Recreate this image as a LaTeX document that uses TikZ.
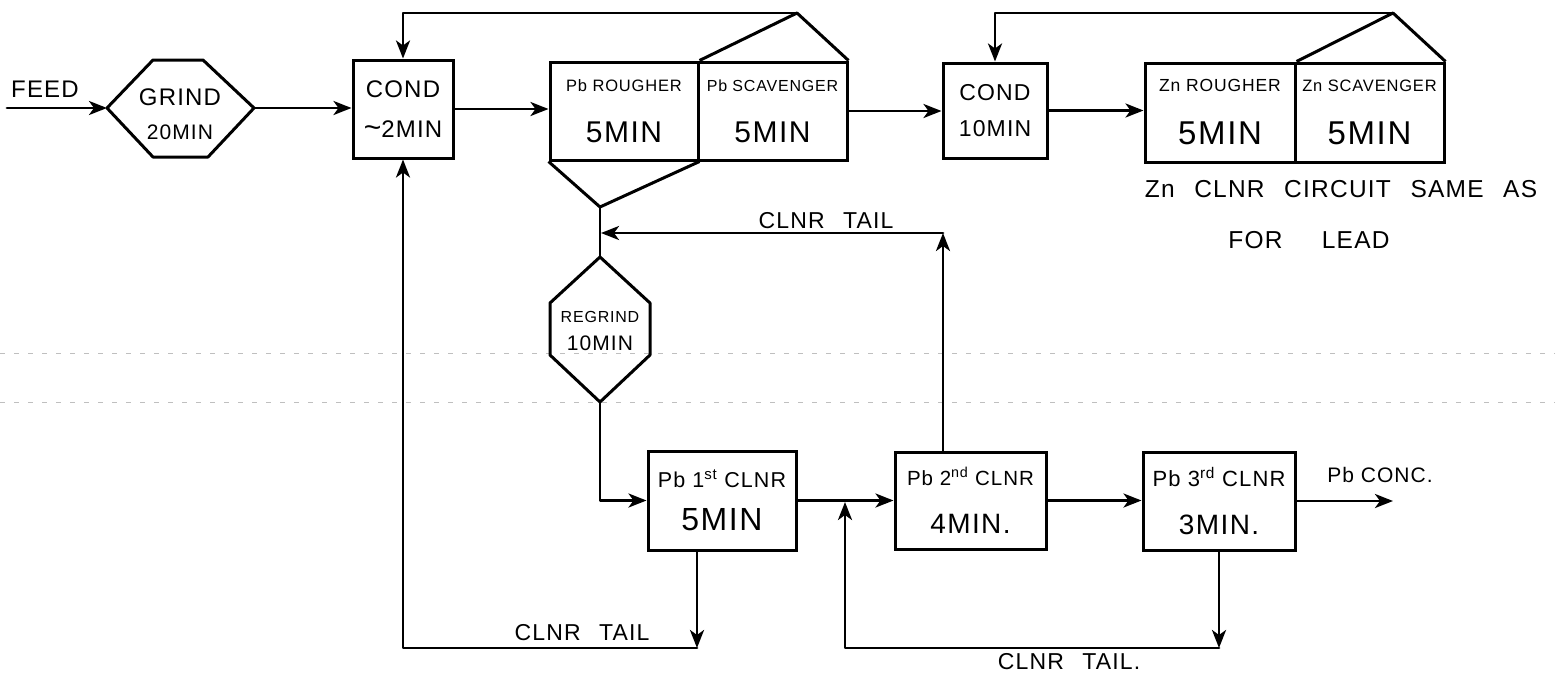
\documentclass[tikz,border=0pt]{standalone}
\usepackage{fontspec}
\setmainfont[LetterSpace=5]{Liberation Sans}
\usetikzlibrary{arrows.meta,calc}
\newcommand\fsz[1]{\fontsize{#1}{#1}\selectfont}
\newcommand\wsp{\hspace{0.8em}}
\begin{document}
\begin{tikzpicture}[x=1pt,y=-1pt,
  box/.style={draw, line width=3pt, inner sep=0pt, align=center},
  conn/.style={line width=2.8pt, line cap=round, line join=round},
  arr/.style={conn, -{Stealth[length=18pt,width=14pt,inset=5pt]}},
  shapeline/.style={line width=3pt, line join=round},
  lbl/.style={inner sep=0pt, align=center},
  faint/.style={gray!50, line width=0.8pt, dash pattern=on 5pt off 9pt}]

\fill[white] (0,0) rectangle (1555,675);
\useasboundingbox (0,0) rectangle (1555,675);

% faint paper grid lines
\draw[faint] (0,353) -- (1555,353);
\draw[faint] (0,402) -- (1555,402);

% ---------- process boxes ----------
\node[box, minimum width=100pt, minimum height=98pt, font=\fontsize{24}{40}\selectfont]
  (cond1) at (403,109) {COND\\{\fsz{24}{\fsz{30}\textasciitilde}2MIN}};
\node[box, minimum width=148pt, minimum height=98pt, font=\fontsize{16.5}{51}\selectfont]
  (pbr) at (624,111) {Pb ROUGHER\\{\fsz{30}5MIN}};
\node[box, minimum width=149pt, minimum height=98pt, font=\fontsize{16}{51}\selectfont]
  (pbs) at (772.5,111) {Pb SCAVENGER\\{\fsz{30}5MIN}};
\node[box, minimum width=104pt, minimum height=95pt, font=\fontsize{23}{36}\selectfont]
  (cond2) at (995,110.5) {COND\\10MIN};
\node[box, minimum width=150pt, minimum height=99pt, font=\fontsize{17.5}{53}\selectfont]
  (znr) at (1220,112.5) {Zn ROUGHER\\{\fsz{33}5MIN}};
\node[box, minimum width=149pt, minimum height=99pt, font=\fontsize{16.5}{53}\selectfont]
  (zns) at (1369.5,112.5) {Zn SCAVENGER\\{\fsz{33}5MIN}};
\node[box, minimum width=148pt, minimum height=99pt, font=\fontsize{21.5}{43}\selectfont]
  (c1) at (722,500.5) {Pb 1\textsuperscript{st} CLNR\\{\fsz{32}5MIN}};
\node[box, minimum width=151pt, minimum height=97pt, font=\fontsize{20.5}{48}\selectfont]
  (c2) at (970.5,500.5) {Pb 2\textsuperscript{nd} CLNR\\{\fsz{28}4MIN.}};
\node[box, minimum width=152pt, minimum height=98pt, font=\fontsize{22}{48}\selectfont]
  (c3) at (1219,501) {Pb 3\textsuperscript{rd} CLNR\\{\fsz{28}3MIN.}};

% ---------- grind hexagons ----------
\node[lbl, font=\fontsize{24}{34}\selectfont] (grind) at (180,114) {GRIND\\{\fsz{21}20MIN}};
\coordinate (gL) at (107,108);
\coordinate (gR) at (254,108);
\draw[shapeline] (gL) -- (153,60) -- (203,60) -- (gR) -- (208,157) -- (153,157) -- cycle;

\node[lbl, font=\fontsize{16}{28}\selectfont] (regrind) at (600,331) {REGRIND\\{\fsz{21}10MIN}};
\coordinate (rgT) at (600,257);
\coordinate (rgB) at (600,402);
\draw[shapeline] (rgT) -- (650,303) -- (650,355) -- (rgB) -- (550,355) -- (550,303) -- cycle;

% ---------- flotation bank hoods ----------
\coordinate (pbapex) at (797,13);
\coordinate (pbbot) at (600,207);
\draw[shapeline] (pbr.north east) -- (pbapex) -- (pbs.north east);
\draw[shapeline] (pbr.south west) -- (pbbot) -- (pbr.south east);
\coordinate (znapex) at (1393,13);
\draw[shapeline] (znr.north east) -- (znapex) -- (zns.north east);

% ---------- connectors ----------
\coordinate (feedin) at (7,108);
\draw[arr] (feedin) -- (gL);
\draw[arr] (gR) -- (gR -| cond1.west);
\draw[arr] (pbapex) -| (cond1.north);
\draw[arr] (cond1.east) -- (cond1.east -| pbr.west);
\draw[arr] (pbs.east) -- (pbs.east -| cond2.west);
\draw[arr] (znapex) -| (cond2.north);
\draw[arr] (cond2.east) -- (cond2.east -| znr.west);
\draw[conn] (pbbot) -- (rgT);

\coordinate (c2t) at (943,233);
\coordinate (j1) at (601,233);
\draw[arr] (c2t |- c2.north) -- (c2t);
\draw[arr] (c2t) -- (j1);

\draw[arr] (rgB) |- (c1.west);
\draw[arr] (c1.east) -- (c2.west);
\draw[arr] (c2.east) -- (c2.east -| c3.west);
\coordinate (pbconc) at (1393,501);
\draw[arr] (c3.east) -- (pbconc);

\coordinate (j2) at (845,502);
\coordinate (c3b) at (1219,648);
\draw[arr] (c3.south) -- (c3b);
\draw[arr] (c3b) -| (j2);

\coordinate (c1b) at (697,648);
\draw[arr] (c1b |- c1.south) -- (c1b);
\draw[arr] (c1b) -| (cond1.south);

% ---------- labels ----------
\node[lbl, font=\fsz{24}] (feed) at (45,89) {FEED};
\node[lbl, font=\fsz{23}] (tail1) at (826,221) {CLNR\wsp TAIL};
\node[lbl, font=\fsz{23}] (tail2) at (582,633) {CLNR\wsp TAIL};
\node[lbl, font=\fsz{23}] (tail3) at (1069,662) {CLNR\wsp TAIL.};
\node[lbl, font=\fsz{21}] (conc) at (1380,475) {Pb CONC.};
\node[lbl, font=\fsz{24.5}] (znnote1) at (1341,189) {Zn\wsp CLNR\wsp CIRCUIT\wsp SAME\wsp AS};
\node[lbl, font=\fsz{24.5}] (znnote2) at (1309,240) {FOR\hspace{1.6em}LEAD};
\end{tikzpicture}
\end{document}
